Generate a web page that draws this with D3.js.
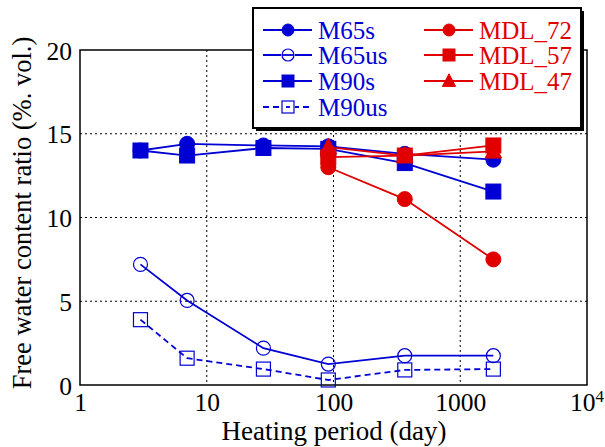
<!DOCTYPE html>
<html>
<head>
<meta charset="utf-8">
<script src="https://cdn.jsdelivr.net/npm/d3@7"></script>
<style>
  body { margin: 0; background: #fff; }
  svg { display: block; }
</style>
</head>
<body>
<svg id="chart" width="605" height="447" font-family="Liberation Serif"></svg>
<script>
// ── datos ──
const days    = [3, 7, 28, 91, 365, 1825];
const daysMDL = [91, 365, 1825];

const M65s  = [14.0, 14.4, 14.3, 14.25, 13.8, 13.45];
const M65us = [7.2, 5.05, 2.2, 1.25, 1.75, 1.75];
const M90s  = [14.0, 13.7, 14.15, 14.1, 13.25, 11.55];
const M90us = [3.9, 1.6, 0.95, 0.3, 0.9, 0.95];

const MDL_72 = [13.0, 11.1, 7.5];
const MDL_57 = [13.6, 13.7, 14.3];
const MDL_47 = [14.2, 13.7, 13.95];

const xTicks = [1, 10, 100, 1000, 10000];
const yTicks = [0, 5, 10, 15, 20];

const BLUE = "#0000d4", RED = "#e00000";
const FONT = "Liberation Serif";

const series = [
  { name: "M65s",   x: days,    y: M65s,   color: BLUE, marker: "circle",   fill: true,  dash: null },
  { name: "M65us",  x: days,    y: M65us,  color: BLUE, marker: "circle",   fill: false, dash: null },
  { name: "M90s",   x: days,    y: M90s,   color: BLUE, marker: "square",   fill: true,  dash: null },
  { name: "M90us",  x: days,    y: M90us,  color: BLUE, marker: "square",   fill: false, dash: "6,4" },
  { name: "MDL_72", x: daysMDL, y: MDL_72, color: RED,  marker: "circle",   fill: true,  dash: null },
  { name: "MDL_57", x: daysMDL, y: MDL_57, color: RED,  marker: "square",   fill: true,  dash: null },
  { name: "MDL_47", x: daysMDL, y: MDL_47, color: RED,  marker: "triangle", fill: true,  dash: null }
];

const svg = d3.select("#chart");
const m = { left: 80, right: 587, top: 50, bottom: 385 };

const x = d3.scaleLog().domain([1, 10000]).range([m.left, m.right]);
const y = d3.scaleLinear().domain([0, 20]).range([m.bottom, m.top]);

/* rejilla punteada */
const grid = svg.append("g").attr("stroke", "#000").attr("stroke-width", 1).attr("stroke-dasharray", "2,3");
grid.selectAll("line.gx").data(xTicks.slice(1, -1)).join("line")
  .attr("x1", d => x(d)).attr("x2", d => x(d)).attr("y1", m.top).attr("y2", m.bottom);
grid.selectAll("line.gy").data(yTicks.slice(1, -1)).join("line")
  .attr("x1", m.left).attr("x2", m.right).attr("y1", d => y(d)).attr("y2", d => y(d));

/* marco */
svg.append("rect")
  .attr("x", m.left).attr("y", m.top)
  .attr("width", m.right - m.left).attr("height", m.bottom - m.top)
  .attr("fill", "none").attr("stroke", "#000").attr("stroke-width", 1.5);

/* ejes (sólo etiquetas) */
const xAxis = svg.append("g")
  .attr("transform", `translate(0,${m.bottom})`)
  .call(d3.axisBottom(x).tickValues(xTicks).tickSize(0).tickPadding(8).tickFormat(d => d === 10000 ? "" : d));
const yAxis = svg.append("g")
  .attr("transform", `translate(${m.left},0)`)
  .call(d3.axisLeft(y).tickValues(yTicks).tickSize(0).tickPadding(8));
[xAxis, yAxis].forEach(g => {
  g.attr("font-family", FONT).attr("font-size", 25.5);
  g.select(".domain").remove();
  g.selectAll("text").attr("font-family", FONT).attr("font-size", 25.5).attr("fill", "#000");
});
yAxis.selectAll("text").attr("dy", "0.36em");

/* 10^4 */
const t4 = xAxis.append("text").attr("x", x(10000)).attr("y", 8).attr("dy", "0.71em")
  .attr("text-anchor", "middle").attr("fill", "#000")
  .attr("font-family", FONT).attr("font-size", 25.5);
t4.append("tspan").text("10");
t4.append("tspan").attr("font-size", 17).attr("dy", "-0.55em").text("4");

/* títulos */
svg.append("text")
  .attr("x", 334).attr("y", 440)
  .attr("text-anchor", "middle").attr("font-family", FONT).attr("font-size", 27)
  .text("Heating period (day)");
svg.append("text")
  .attr("transform", "translate(31,213) rotate(-90)")
  .attr("text-anchor", "middle").attr("font-family", FONT).attr("font-size", 26.5)
  .text("Free water content ratio (%. vol.)");

/* marcadores */
function marker(g, type, size, color, fill) {
  let el;
  if (type === "circle") {
    el = g.append("circle").attr("r", size / 2);
  } else if (type === "square") {
    el = g.append("rect").attr("x", -size / 2).attr("y", -size / 2).attr("width", size).attr("height", size);
  } else {
    const h = size;
    el = g.append("path").attr("d", `M0,${-h * 0.6} L${h * 0.55},${h * 0.45} L${-h * 0.55},${h * 0.45} Z`);
  }
  el.attr("fill", fill ? color : "none")
    .attr("stroke", color).attr("stroke-width", fill ? 1 : 1.2);
}

/* series */
const line = d3.line().x(d => x(d[0])).y(d => y(d[1]));
series.forEach(s => {
  const pts = s.x.map((d, i) => [d, s.y[i]]);
  const g = svg.append("g");
  g.append("path").datum(pts)
    .attr("d", line).attr("fill", "none")
    .attr("stroke", s.color).attr("stroke-width", 1.8)
    .attr("stroke-dasharray", s.dash);
  g.selectAll("g.pt").data(pts).join("g")
    .attr("transform", d => `translate(${x(d[0])},${y(d[1])})`)
    .each(function() { marker(d3.select(this), s.marker, s.fill ? 15 : 14, s.color, s.fill); });
});

/* leyenda */
const lg = svg.append("g");
lg.append("rect").attr("x", 256).attr("y", 11).attr("width", 328).attr("height", 120).attr("fill", "#000");
lg.append("rect").attr("x", 253).attr("y", 8).attr("width", 328).attr("height", 120)
  .attr("fill", "#fff").attr("stroke", "#000").attr("stroke-width", 2);

const rowsY = [30, 55, 81, 107];
series.forEach((s, i) => {
  const col = i < 4 ? 0 : 1;
  const row = i < 4 ? i : i - 4;
  const x0 = col === 0 ? 263 : 424;
  const yy = rowsY[row];
  const e = lg.append("g");
  e.append("line").attr("x1", x0).attr("x2", x0 + 49).attr("y1", yy).attr("y2", yy)
    .attr("stroke", s.color).attr("stroke-width", 1.8).attr("stroke-dasharray", s.dash);
  const mk = e.append("g").attr("transform", `translate(${x0 + 25},${yy})`);
  if (!s.fill) mk.append("rect").attr("x", -7).attr("y", -7).attr("width", 14).attr("height", 14).attr("fill", "#fff");
  marker(mk, s.marker, 12, s.color, s.fill);
  if (!s.fill && s.dash) mk.append("line").attr("x1", -2).attr("x2", 2).attr("stroke", s.color).attr("stroke-width", 1.8);
  if (!s.fill && !s.dash) mk.append("line").attr("x1", -6).attr("x2", 6).attr("stroke", s.color).attr("stroke-width", 1.8);
  e.append("text").attr("x", x0 + 55).attr("y", yy).attr("dy", "0.35em")
    .attr("font-family", FONT).attr("font-size", 25).attr("fill", s.color).text(s.name);
});
</script>
</body>
</html>
